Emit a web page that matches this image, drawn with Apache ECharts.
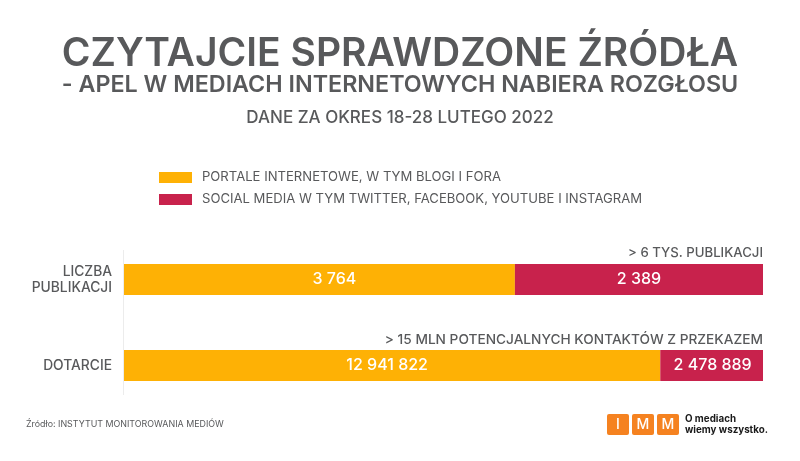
<!DOCTYPE html>
<html>
<head>
<meta charset="utf-8">
<style>html,body{margin:0;padding:0;background:#fff}#chart{width:800px;height:461px}</style>
<script src="https://cdn.jsdelivr.net/npm/echarts@6/dist/echarts.min.js"></script>
</head>
<body>
<div id="chart"></div>
<script>
const categories = ['LICZBA\nPUBLIKACJI', 'DOTARCIE'];
const portale = [3764, 12941822];
const social = [2389, 2478889];
const seriesNames = ['PORTALE INTERNETOWE, W TYM BLOGI I FORA', 'SOCIAL MEDIA W TYM TWITTER, FACEBOOK, YOUTUBE I INSTAGRAM'];
const totals = portale.map((v, i) => v + social[i]);

const font = 'Inter';
const grey = '#58595b';

// spacja jako separator tysiecy
const fmt = v => String(v).replace(/\B(?=(\d{3})+$)/g, ' ');

// slupki 100%, etykieta pokazuje surowa wartosc
function share(values, offsets) {
  return values.map((v, i) => ({ value: v / totals[i] * 100, raw: v, label: { offset: [offsets[i], 0] } }));
}

function head(text, top, size, weight) {
  return { text, left: 400, top, textAlign: 'center', padding: 0,
    textStyle: { fontFamily: font, fontSize: size, fontWeight: weight, color: grey } };
}

const valueLabel = { show: true, position: 'inside', formatter: p => fmt(p.data.raw), fontFamily: font, fontSize: 16, fontWeight: 500, color: '#fff' };

const chart = echarts.init(document.getElementById('chart'), null, { renderer: 'canvas' });
chart.setOption({
  animation: false,
  backgroundColor: '#fff',
  title: [
    head('CZYTAJCIE SPRAWDZONE ŹRÓDŁA', 35, 39, 600),
    head('- APEL W MEDIACH INTERNETOWYCH NABIERA ROZGŁOSU', 73, 23.3, 600),
    head('DANE ZA OKRES 18-28 LUTEGO 2022', 109, 17, 500),
    { text: '> 6 TYS. PUBLIKACJI', right: 37, top: 247, padding: 0,
      textStyle: { fontFamily: font, fontSize: 13.2, fontWeight: 500, color: grey } },
    { text: '> 15 MLN POTENCJALNYCH KONTAKTÓW Z PRZEKAZEM', right: 37, top: 333, padding: 0,
      textStyle: { fontFamily: font, fontSize: 13.7, fontWeight: 500, color: grey } },
    { text: 'Źródło: INSTYTUT MONITOROWANIA MEDIÓW', left: 26, top: 420, padding: 0,
      textStyle: { fontFamily: font, fontSize: 8.9, fontWeight: 400, color: grey } }
  ],
  legend: {
    left: 159, top: 171, padding: 0, orient: 'vertical', itemWidth: 33, itemHeight: 11, itemGap: 9,
    icon: 'rect', selectedMode: false,
    textStyle: { fontFamily: font, fontSize: 13.1, color: grey, padding: [0, 0, 0, 5] }
  },
  grid: { left: 124, right: 37, top: 236.5, height: 172 },
  xAxis: { type: 'value', min: 0, max: 100, show: false },
  yAxis: {
    type: 'category', data: categories, inverse: true,
    axisLine: { show: false }, axisTick: { show: false },
    axisLabel: { margin: 12, align: 'right', lineHeight: 16, padding: [2, 0, 0, 0], fontFamily: font, fontSize: 13.8, fontWeight: 500, color: grey }
  },
  series: [
    { name: seriesNames[0], type: 'bar', stack: 'a', barWidth: 31, data: share(portale, [15, -5]),
      itemStyle: { color: '#feb105' }, label: valueLabel },
    { name: seriesNames[1], type: 'bar', stack: 'a', barWidth: 31, data: share(social, [0, 1]),
      itemStyle: { color: '#c8224c' }, label: valueLabel }
  ],
  graphic: [
    { type: 'line', shape: { x1: 123.5, y1: 250, x2: 123.5, y2: 395 }, style: { stroke: '#ececec', lineWidth: 1 } },
    ...[['I', 607], ['M', 632], ['M', 657]].map(([t, x]) => ({
      type: 'rect', shape: { x, y: 414, width: 22, height: 21, r: 2 }, style: { fill: '#f58220' },
      textContent: { style: { text: t, fill: '#fff', fontFamily: font, fontSize: 14, fontWeight: 500 } },
      textConfig: { position: 'inside' }
    })),
    { type: 'text', x: 685, y: 414, style: { text: 'O mediach\nwiemy wszystko.', fill: '#1a1a1a', fontFamily: font, fontSize: 9.8, fontWeight: 700, lineHeight: 11 } }
  ]
});
</script>
</body>
</html>
